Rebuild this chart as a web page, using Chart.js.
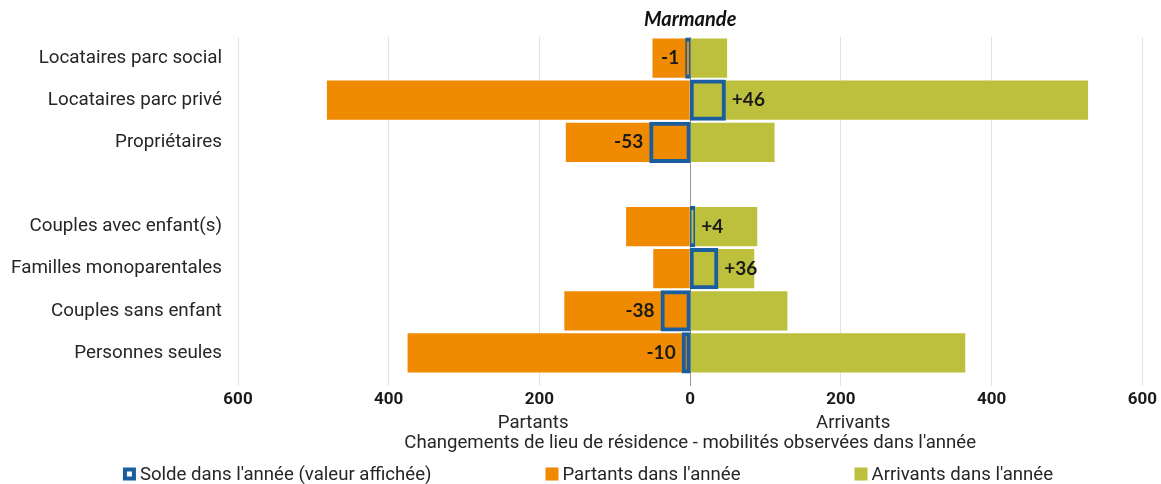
<!DOCTYPE html>
<html>
<head>
<meta charset="utf-8">
<script src="https://cdn.jsdelivr.net/npm/chart.js@4"></script>
<style>
  html, body { margin: 0; padding: 0; background: #fff; }
  #wrap { position: relative; width: 1161px; height: 484px; }
</style>
</head>
<body>
<div id="wrap"><canvas id="mobChart"></canvas></div>
<script>
// categories ('' = empty separator row)
const categories = ['Locataires parc social', 'Locataires parc privé', 'Propriétaires', '',
    'Couples avec enfant(s)', 'Familles monoparentales', 'Couples sans enfant', 'Personnes seules'];
const partants = [50, 482, 165, null, 85, 49, 167, 375];
const arrivants = [49, 528, 112, null, 89, 85, 129, 365];
const solde = [-1, 46, -53, null, 4, 36, -38, -10];
const xTicks = [-600, -400, -200, 0, 200, 400, 600];

const ORANGE = '#F08A00';
const GREEN = '#BDC03C';
const BLUE = '#1B5E9E';

// texts around the plot + solde values
const extras = {
    id: 'extras',
    afterDatasetsDraw(chart) {
        const ctx = chart.ctx;
        const meta = chart.getDatasetMeta(0);
        ctx.save();
        ctx.font = 'bold 19px Lato';
        ctx.fillStyle = '#1a1a1a';
        ctx.textBaseline = 'middle';
        meta.data.forEach((el, i) => {
            const v = solde[i];
            if (v === null) return;
            if (v < 0) {
                ctx.textAlign = 'right';
                ctx.fillText(String(v), Math.min(el.x, el.base) - 7, el.y);
            } else {
                ctx.textAlign = 'left';
                ctx.fillText('+' + v, Math.max(el.x, el.base) + 7, el.y);
            }
        });
        ctx.restore();
    },
    afterDraw(chart) {
        const ctx = chart.ctx;
        const x0 = chart.scales.x.getPixelForValue(0);
        const bottom = chart.chartArea.bottom;
        ctx.save();
        ctx.textBaseline = 'middle';
        ctx.textAlign = 'center';
        ctx.fillStyle = '#111';
        ctx.font = 'italic bold 20px Lato';
        ctx.fillText('Marmande', x0, 20);

        ctx.fillStyle = '#262626';
        ctx.font = '18.6px Roboto';
        ctx.fillText('Partants', x0 - 157, bottom + 49);
        ctx.fillText('Arrivants', x0 + 163, bottom + 49);
        ctx.fillText("Changements de lieu de résidence - mobilités observées dans l'année", x0, bottom + 69);

        // legend
        const items = [
            { text: "Solde dans l'année (valeur affichée)", kind: 'outline', color: BLUE },
            { text: "Partants dans l'année", kind: 'fill', color: ORANGE },
            { text: "Arrivants dans l'année", kind: 'fill', color: GREEN }
        ];
        const box = 13, gapText = 4, gap = 114;
        const widths = items.map(it => box + gapText + ctx.measureText(it.text).width);
        const total = widths.reduce((a, b) => a + b, 0) + gap * (items.length - 1);
        let x = 588 - total / 2;
        const ly = bottom + 100;
        ctx.textAlign = 'left';
        items.forEach((it, i) => {
            ctx.fillStyle = it.color;
            ctx.fillRect(x, ly - box / 2, box, box);
            if (it.kind === 'outline') {
                ctx.fillStyle = '#fff';
                ctx.fillRect(x + 4, ly - box / 2 + 4, box - 8, box - 8);
            }
            ctx.fillStyle = '#262626';
            ctx.fillText(it.text, x + box + gapText, ly + 1);
            x += widths[i] + gap;
        });
        ctx.restore();
    }
};

new Chart(document.getElementById('mobChart'), {
    type: 'bar',
    data: {
        labels: categories,
        datasets: [
            {
                label: "Solde dans l'année (valeur affichée)",
                data: solde,
                backgroundColor: 'rgba(0,0,0,0)',
                borderColor: BLUE,
                borderWidth: 2,
                inflateAmount: 1,
                borderSkipped: false,
                minBarLength: 4
            },
            {
                label: "Partants dans l'année",
                data: partants.map(v => v === null ? null : -v),
                backgroundColor: ORANGE
            },
            {
                label: "Arrivants dans l'année",
                data: arrivants,
                backgroundColor: GREEN
            }
        ]
    },
    options: {
        indexAxis: 'y',
        responsive: true,
        maintainAspectRatio: false,
        animation: false,
        datasets: {
            bar: { grouped: false, barPercentage: 0.93, categoryPercentage: 1 }
        },
        layout: { padding: { top: 37, right: 18, bottom: 70, left: 0 } },
        scales: {
            x: {
                min: -600,
                max: 600,
                afterBuildTicks(scale) {
                    scale.ticks = xTicks.map(v => ({ value: v }));
                },
                afterFit(scale) { scale.height = 40; },
                ticks: {
                    padding: 4,
                    color: '#1a1a1a',
                    font: { family: 'Roboto', size: 17, weight: 'bold' },
                    callback: v => String(Math.abs(v))
                },
                grid: {
                    color: c => c.tick && c.tick.value === 0 ? '#9a9a9a' : '#e2e2e2',
                    lineWidth: 1,
                    tickLength: 12
                },
                border: { display: false }
            },
            y: {
                afterFit(scale) { scale.width = 238; },
                ticks: {
                    padding: 16,
                    color: '#262626',
                    font: { family: 'Roboto', size: 18.8 }
                },
                grid: { display: false, drawTicks: false },
                border: { display: false }
            }
        },
        plugins: {
            legend: { display: false },
            title: { display: false },
            tooltip: { enabled: false }
        }
    },
    plugins: [extras]
});
</script>
</body>
</html>
